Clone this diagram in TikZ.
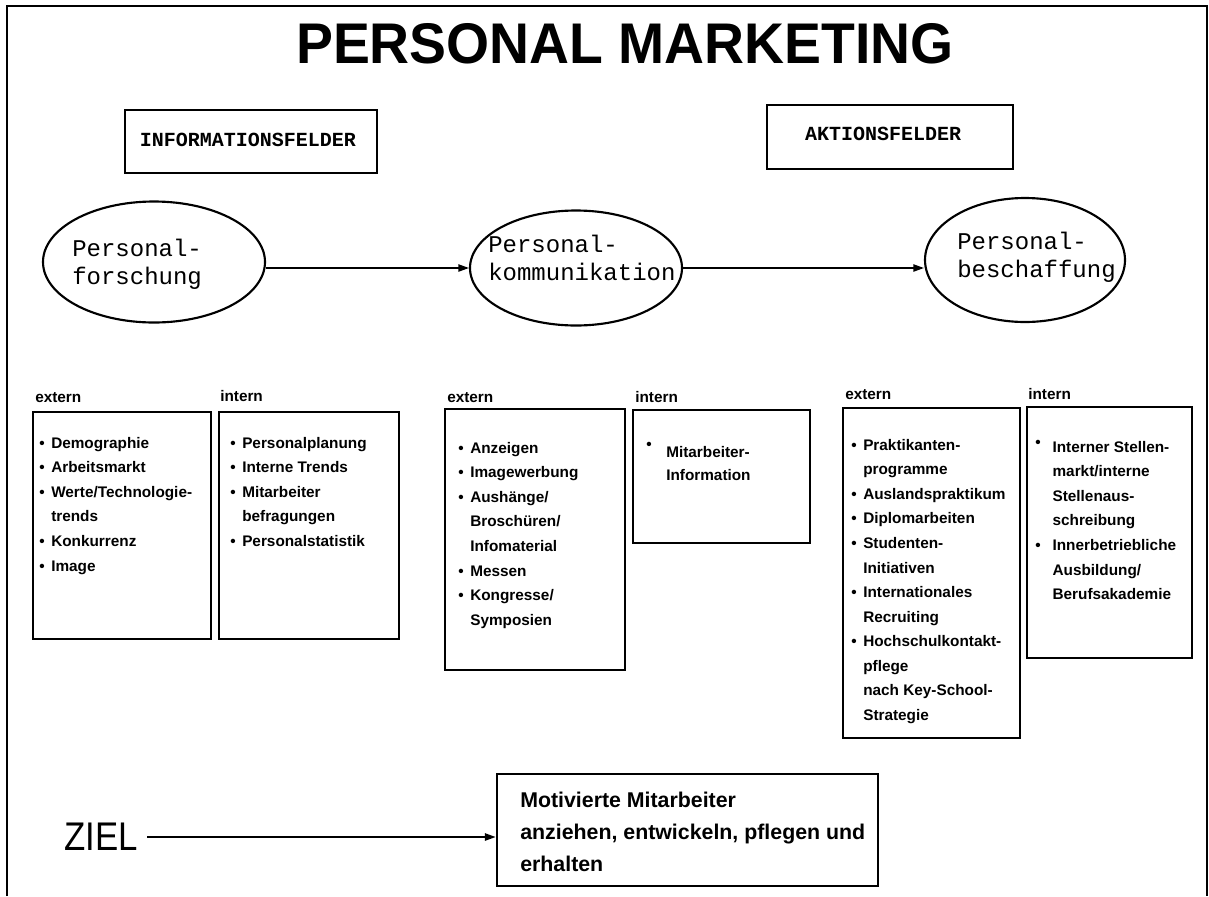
\documentclass[tikz,border=0pt]{standalone}
\usepackage{fontspec}
\setmainfont{Liberation Sans}
\newfontfamily\monofont{Liberation Mono}
\usetikzlibrary{shapes.geometric,arrows.meta,fit}
\newcommand{\itm}{\makebox[9pt][l]{\textbullet}}
\newcommand{\ind}{\hspace*{9pt}}
\tikzset{
  box/.style={draw, line width=2.1pt, rectangle, inner sep=0pt},
  hdrbox/.style={draw, line width=2.1pt, rectangle, inner sep=0pt},
  hdrtext/.style={inner sep=0pt, font=\monofont\bfseries\fontsize{15}{18}\selectfont},
  oval/.style={draw, ellipse, line width=1.6pt, inner sep=0pt},
  ovaltext/.style={anchor=north west, inner sep=0pt, align=left, font=\monofont\fontsize{18}{21}\selectfont},
  arr/.style={line width=1.1pt, -{Triangle[length=8pt,width=5.5pt]}},
  itemtext/.style={anchor=north west, inner sep=0pt, align=left, font=\fontsize{11.5}{18.4}\selectfont\bfseries},
  lbl/.style={anchor=west, inner sep=0pt, font=\fontsize{11.5}{14}\selectfont\bfseries},
  frame/.style={line width=1.1pt},
}
\begin{document}
\begin{tikzpicture}[x=0.75pt,y=-0.75pt]
\useasboundingbox (0,0) rectangle (1209,896);
\draw[frame] (7,896) -- (7,6) -- (1207,6) -- (1207,896);

% title
\node[anchor=base, inner sep=0pt, font=\bfseries\fontsize{43}{45}\selectfont] (title) at (625,63) {\scalebox{0.965}[1]{PERSONAL MARKETING}};

% header boxes
\node[hdrbox, fit={(125,110) (377,173)}] (infobox) {};
\node[hdrtext] (infotext) at (248,140) {INFORMATIONSFELDER};
\node[hdrbox, fit={(767,105) (1013,169)}] (aktbox) {};
\node[hdrtext] (akttext) at (883,134) {AKTIONSFELDER};

% ellipses
\node[oval, minimum width=166.5pt, minimum height=90.75pt] (e1) at (154,262) {};
\node[ovaltext] (t1) at (72,239) {Personal-\\forschung};
\node[oval, minimum width=159pt, minimum height=86.25pt] (e2) at (576,268) {};
\node[ovaltext] (t2) at (488,235) {Personal-\\kommunikation};
\node[oval, minimum width=150pt, minimum height=93pt] (e3) at (1025,260) {};
\node[ovaltext] (t3) at (957,232) {Personal-\\beschaffung};

\draw[arr] (e1.east |- e2.west) -- (e2.west);
\draw[arr] (e2.east) -- (e2.east -| e3.west);

% labels
\node[lbl] (l1) at (35,398) {extern};
\node[lbl] (l2) at (220,396) {intern};
\node[lbl] (l3) at (447,398) {extern};
\node[lbl] (l4) at (635,397) {intern};
\node[lbl] (l5) at (845,395) {extern};
\node[lbl] (l6) at (1028,394) {intern};

% list boxes
\node[box, fit={(33,412) (211,639)}] (b1) {};
\node[itemtext] (i1) at (39,437) {\itm Demographie\\\itm Arbeitsmarkt\\\itm Werte/Technologie-\\\ind trends\\\itm Konkurrenz\\\itm Image};

\node[box, fit={(219,412) (399,639)}] (b2) {};
\node[itemtext] (i2) at (230,437) {\itm Personalplanung\\\itm Interne Trends\\\itm Mitarbeiter\\\ind befragungen\\\itm Personalstatistik};

\node[box, fit={(445,409) (625,670)}] (b3) {};
\node[itemtext] (i3) at (458,442) {\itm Anzeigen\\\itm Imagewerbung\\\itm Aushänge/\\\ind Broschüren/\\\ind Infomaterial\\\itm Messen\\\itm Kongresse/\\\ind Symposien};

\node[box, fit={(633,410) (810,543)}] (b4) {};
\node[itemtext, font=\fontsize{11.5}{17.3}\selectfont\bfseries] (i4) at (646,446) {\makebox[15pt][l]{\raisebox{6pt}[0pt][0pt]{\textbullet}}Mitarbeiter-\\\hspace*{15pt}Information};

\node[box, fit={(843,408) (1020,738)}] (b5) {};
\node[itemtext] (i5) at (851,439) {\itm Praktikanten-\\\ind programme\\\itm Auslandspraktikum\\\itm Diplomarbeiten\\\itm Studenten-\\\ind Initiativen\\\itm Internationales\\\ind Recruiting\\\itm Hochschulkontakt-\\\ind pflege\\\ind nach Key-School-\\\ind Strategie};

\node[box, fit={(1027,407) (1192,658)}] (b6) {};
\node[itemtext] (i6) at (1035,441) {\makebox[13pt][l]{\raisebox{4pt}[0pt][0pt]{\textbullet}}Interner Stellen-\\\hspace*{13pt}markt/interne\\\hspace*{13pt}Stellenaus-\\\hspace*{13pt}schreibung\\\makebox[13pt][l]{\textbullet}Innerbetriebliche\\\hspace*{13pt}Ausbildung/\\\hspace*{13pt}Berufsakademie};

% goal
\node[inner sep=0pt, inner xsep=7pt, font=\fontsize{30}{30}\selectfont] (ziel) at (101,837) {\scalebox{0.87}[1]{ZIEL}};
\node[box, fit={(497,774) (878,886)}] (goal) {};
\node[anchor=north west, inner sep=0pt, align=left, font=\fontsize{16}{24}\selectfont\bfseries] (goaltext) at (520,792) {Motivierte Mitarbeiter\\anziehen, entwickeln, pflegen und\\erhalten};
\draw[arr] (ziel.east) -- (ziel.east -| goal.west);
\end{tikzpicture}
\end{document}
